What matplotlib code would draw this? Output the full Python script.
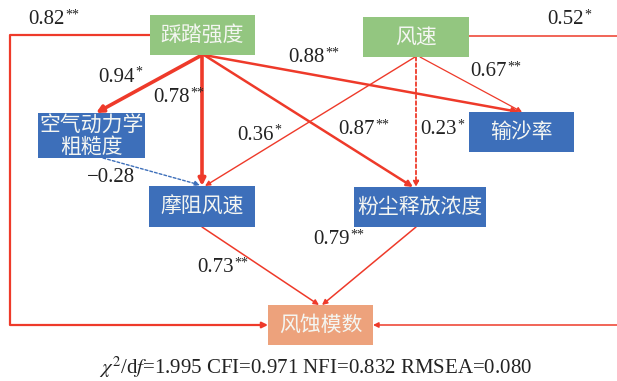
import matplotlib.pyplot as plt
from matplotlib.patches import Rectangle

plt.rcParams['font.family'] = ['Liberation Serif', 'Noto Sans CJK SC']
plt.rcParams['mathtext.fontset'] = 'stix'

# model variables and path coefficients
nodes = ['踩踏强度', '风速', '空气动力学\n粗糙度', '输沙率', '摩阻风速', '粉尘释放浓度', '风蚀模数']
edges = [
    ('踩踏强度', '风蚀模数', '0.82', '**'),
    ('风速', '风蚀模数', '0.52', '*'),
    ('踩踏强度', '空气动力学\n粗糙度', '0.94', '*'),
    ('踩踏强度', '摩阻风速', '0.78', '**'),
    ('踩踏强度', '输沙率', '0.88', '**'),
    ('踩踏强度', '粉尘释放浓度', '0.87', '**'),
    ('风速', '摩阻风速', '0.36', '*'),
    ('风速', '粉尘释放浓度', '0.23', '*'),
    ('风速', '输沙率', '0.67', '**'),
    ('空气动力学\n粗糙度', '摩阻风速', '−0.28', ''),
    ('摩阻风速', '风蚀模数', '0.73', '**'),
    ('粉尘释放浓度', '风蚀模数', '0.79', '**'),
]
fit_text = r'$\chi^2$/d$f$=1.995 CFI=0.971 NFI=0.832 RMSEA=0.080'

# layout in pixel units (y downward)
GREEN, BLUE, ORANGE = '#93c680', '#3d6fba', '#eda27c'
RED = '#ee3a2a'
boxes = {
    '踩踏强度': ((150, 15, 255, 55), GREEN),
    '风速': ((363, 17, 469, 57), GREEN),
    '空气动力学\n粗糙度': ((38, 113, 145, 158), BLUE),
    '输沙率': ((469, 112, 574, 152), BLUE),
    '摩阻风速': ((149, 186, 255, 227), BLUE),
    '粉尘释放浓度': ((354, 187, 486, 227), BLUE),
    '风蚀模数': ((268, 305, 373, 345), ORANGE),
}
# (path points, linewidth, linestyle, color, label position)
paths = [
    ([(150, 35), (10, 35), (10, 325), (268, 325)], 1.6, '-', RED, (28, 20)),
    ([(469, 36), (630, 36), (630, 325), (373, 325)], 1.1, '-', RED, (547, 20)),
    ([(202, 55), (96, 113)], 2.6, '-', RED, (98, 77)),
    ([(202, 55), (202, 186)], 2.6, '-', RED, (153, 98)),
    ([(204, 55), (519, 112)], 1.8, '-', RED, (288, 58)),
    ([(204, 55), (413, 187)], 1.8, '-', RED, (338, 130)),
    ([(415, 57), (205, 186)], 1.0, '-', RED, (237, 135)),
    ([(416, 57), (416, 187)], 1.3, (0, (2, 1.5)), RED, (420, 130)),
    ([(420, 57), (522, 112)], 0.9, '-', RED, (470, 72)),
    ([(103, 158), (200, 185)], 1.0, (0, (2, 1.5)), BLUE, (87, 178)),
    ([(202, 227), (319, 305)], 1.1, '-', RED, (197, 268)),
    ([(416, 227), (322, 305)], 1.1, '-', RED, (313, 240)),
]

fig = plt.figure(figsize=(6.17, 3.81), dpi=100)
ax = fig.add_axes([0, 0, 1, 1])
ax.set_xlim(0, 617)
ax.set_ylim(381, 0)
ax.axis('off')

for (src, dst, coef, sig), (pts, lw, ls, col, lab) in zip(edges, paths):
    xs = [p[0] for p in pts]
    ys = [p[1] for p in pts]
    ax.plot(xs[:-1], ys[:-1], color=col, lw=lw, ls=ls, solid_capstyle='butt')
    ax.annotate('', xy=pts[-1], xytext=pts[-2],
                arrowprops=dict(arrowstyle='-|>', color=col, lw=lw, ls=ls,
                                mutation_scale=6 + lw * 1.5, shrinkA=0, shrinkB=0))
    t = ax.text(lab[0], lab[1], coef, fontsize=15, va='center', ha='left', color='#222222')
    if sig:
        # significance stars as a small superscript right after the number
        ax.annotate(sig, xy=(1, 1), xycoords=t, xytext=(0.5, 1.2), textcoords='offset points',
                    fontsize=10, va='top', ha='left', color='#222222')

for name in nodes:
    (x0, y0, x1, y1), col = boxes[name]
    ax.add_patch(Rectangle((x0, y0), x1 - x0, y1 - y0, facecolor=col, edgecolor='none', zorder=3))
    ax.text((x0 + x1) / 2, (y0 + y1) / 2, name, ha='center', va='center', fontsize=15,
            color='#f4f6f2', family=['Noto Sans CJK SC'], linespacing=1.0, zorder=4)

ax.text(316, 367, fit_text, ha='center', va='center', fontsize=15, color='#222222')

fig.savefig('out.png', dpi=100)
